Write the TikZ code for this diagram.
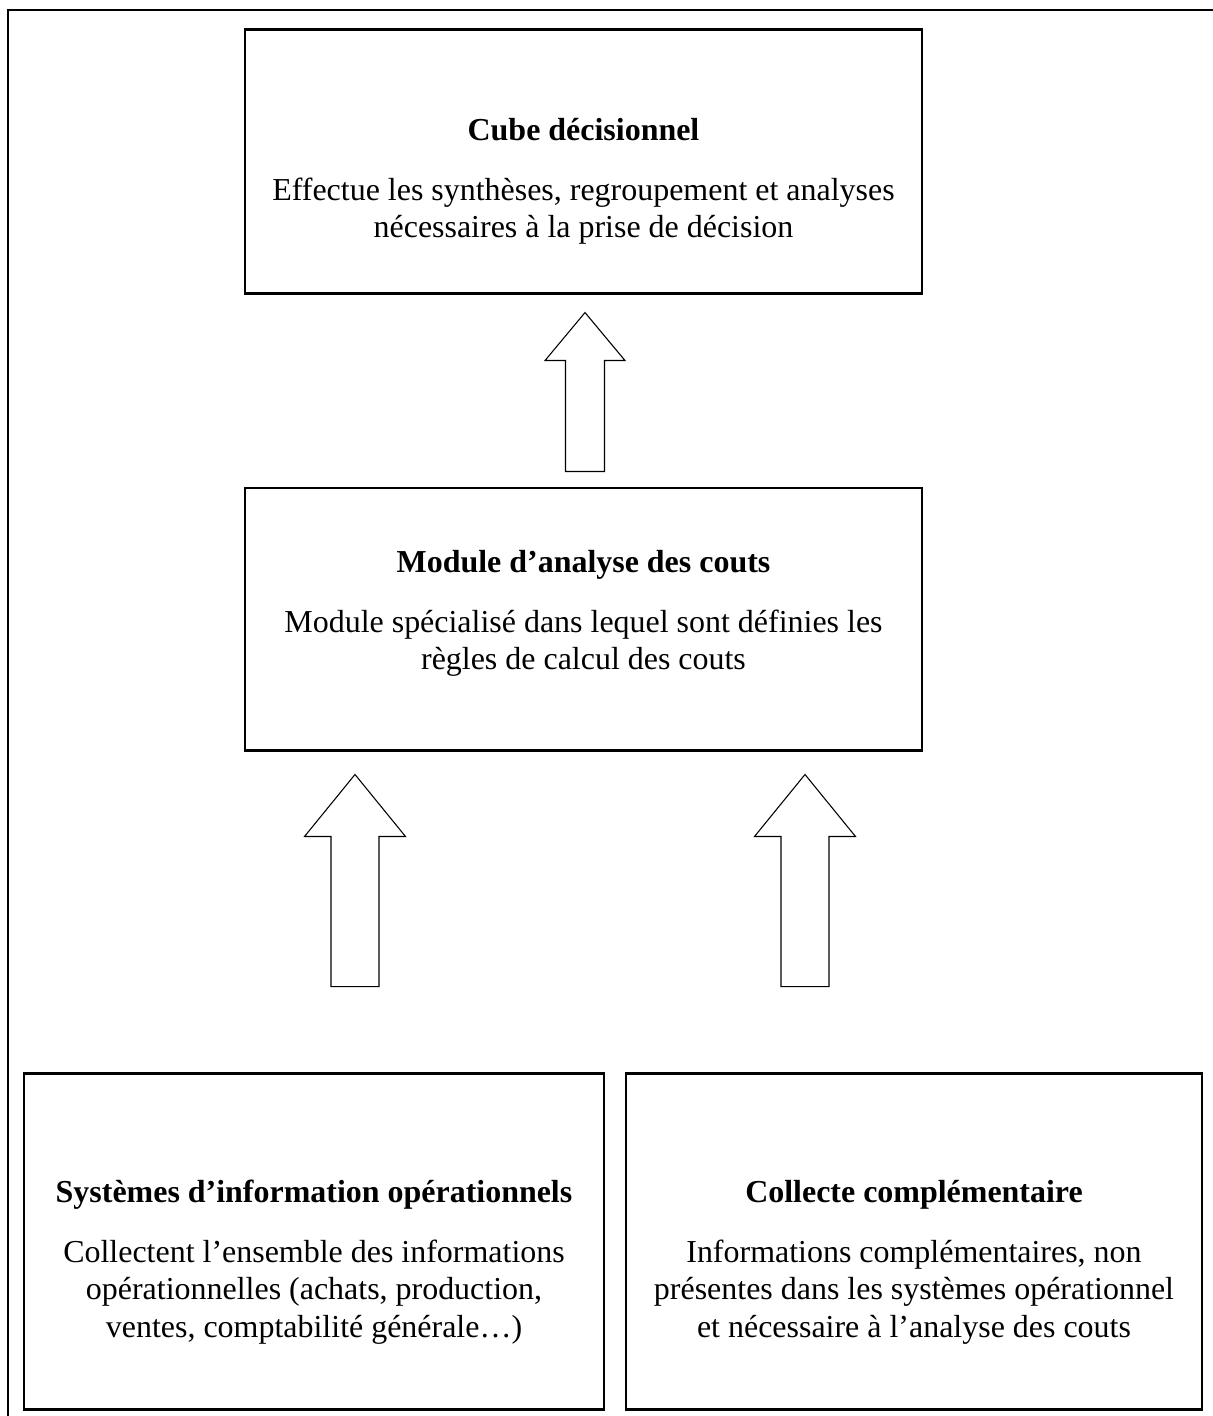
\documentclass[tikz,border=0pt]{standalone}
\usepackage{fontspec}
\setmainfont{Liberation Serif}
\usetikzlibrary{positioning,calc}
\newcommand{\boxsize}{\fontsize{12}{14.1}\selectfont}
\tikzset{
  box/.style={draw,line width=1.1pt,inner sep=0pt},
  boxtitle/.style={font=\boxsize\bfseries,inner sep=0pt,text height=9pt,text depth=3pt},
  boxtext/.style={font=\boxsize,align=center,inner sep=0pt,execute at begin node=\strut},
  frame/.style={line width=1.1pt,line cap=rect},
  bigarrow/.style n args={3}{draw,line width=0.9pt,line join=miter,
    to path={($(\tikztostart)+(-#1,0)$) -- ($(\tikztotarget)+(-#1,#3)$)
      -- ($(\tikztotarget)+(-#2,#3)$) -- (\tikztotarget)
      -- ($(\tikztotarget)+(#2,#3)$) -- ($(\tikztotarget)+(#1,#3)$)
      -- ($(\tikztostart)+(#1,0)$) -- cycle}},
}

\begin{document}
\begin{tikzpicture}[x=0.3755pt,y=-0.3755pt]
  \useasboundingbox (0,0) rectangle (1213,1416);
  \draw[frame] (8,1420) -- (8,10) -- (1220,10);

  \node[box,minimum width=254.2pt,minimum height=98.8pt] (cube) at (583.5,161.5) {};
  \node[box,minimum width=254.2pt,minimum height=98.4pt] (mid) at (583.5,619) {};
  \node[box,minimum width=217.8pt,minimum height=126.5pt] (sio) at (314,1241.5) {};
  \node[box,minimum width=216.3pt,minimum height=126.5pt] (col) at (914,1241.5) {};

  \node[boxtitle,below=32.7pt of cube.north] (cubet) {Cube décisionnel};
  \node[boxtext,below=10.7pt of cubet] {Effectue les synthèses, regroupement et analyses\\
    nécessaires à la prise de décision};
  \node[boxtitle,below=22.9pt of mid.north] (midt) {Module d’analyse des couts};
  \node[boxtext,below=10.7pt of midt] {Module spécialisé dans lequel sont définies les\\
    règles de calcul des couts};
  \node[boxtitle,below=39.8pt of sio.north] (siot) {Systèmes d’information opérationnels};
  \node[boxtext,below=10.7pt of siot] {Collectent l’ensemble des informations\\
    opérationnelles (achats, production,\\ventes, comptabilité générale…)};
  \node[boxtitle,below=39.8pt of col.north] (colt) {Collecte complémentaire};
  \node[boxtext,below=10.7pt of colt] {Informations complémentaires, non\\
    présentes dans les systèmes opérationnel\\et nécessaire à l’analyse des couts};

  \coordinate (a1) at ($(mid.north)+(1.5,-15)$);
  \coordinate (a2) at ($(sio.north)+(41,-85)$);
  \coordinate (a3) at ($(col.north)+(-109,-85)$);
  \draw (a1) to[bigarrow={19.5}{40}{48}] ($(cube.south -| a1)+(0,18)$);
  \draw (a2) to[bigarrow={24}{50.5}{62}] ($(mid.south -| a2)+(0,23)$);
  \draw (a3) to[bigarrow={24}{50.5}{62}] ($(mid.south -| a3)+(0,23)$);
\end{tikzpicture}
\end{document}
